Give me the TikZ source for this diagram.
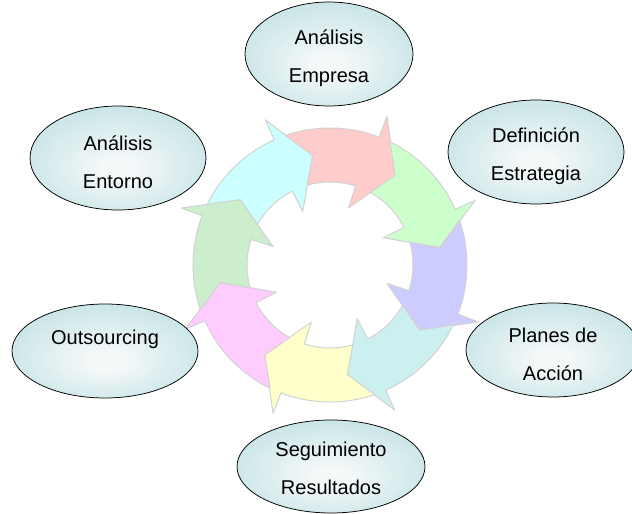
\documentclass[tikz,border=0pt]{standalone}
\usepackage{fontspec}
\setmainfont{Liberation Sans}
\usetikzlibrary{shapes.geometric}
\definecolor{ringline}{HTML}{D2D2D2}
\definecolor{ellin}{HTML}{F6F9F9}
\definecolor{ellout}{HTML}{B6DCE0}
\definecolor{arA}{HTML}{CCFFFF}
\definecolor{arB}{HTML}{FFCCCC}
\definecolor{arC}{HTML}{CCFFCC}
\definecolor{arD}{HTML}{CCCCFF}
\definecolor{arE}{HTML}{CCF0F0}
\definecolor{arF}{HTML}{FFFFCC}
\definecolor{arG}{HTML}{FFCCFF}
\definecolor{arH}{HTML}{CCEECC}
% soft glow, a little below the middle of each ellipse
\pgfdeclareradialshading{ellglow}{\pgfpoint{0bp}{-6bp}}{%
  color(0bp)=(ellin); color(4bp)=(ellin); color(38bp)=(ellout); color(50bp)=(ellout)}
\newcommand\topgap{\rule{0pt}{24pt}}
\begin{document}
\begin{tikzpicture}[x=1pt,y=1pt,
  phase/.style={ellipse, draw=black, line width=0.75pt,
    shading=ellglow, inner sep=0pt,
    align=center, font=\fontsize{20}{38}\selectfont},
  ringarrow/.style={draw=ringline, line width=1pt, line join=round}]
\useasboundingbox (0,0) rectangle (632,514);

% ring of eight curved arrows running clockwise; each tail is notched
% to fit around the head of the arrow before it
\begin{scope}[shift={(330,249)}]
\foreach \t/\c in {99/arA, 54/arB, 9/arC, -36/arD, -81/arE, -126/arF, -171/arG, 144/arH}{
  \pgfmathsetmacro\tT{\t+45}
  \pgfmathsetmacro\ta{\t+55.05}
  \pgfmathsetmacro\tb{\t+15}
  \pgfmathsetmacro\tc{\t+18}
  \pgfmathsetmacro\td{\t+51.93}
  \draw[ringarrow, fill=\c] (\ta:137)
    arc[start angle=\ta, end angle=\tb, radius=137]
    -- (\tb:159) -- (\t:111) -- (\tc:60) -- (\tc:83)
    arc[start angle=\tc, end angle=\td, radius=83]
    -- (\tT:111) -- cycle;
}
\end{scope}

% phases around the cycle
\node[phase, minimum width=168, minimum height=104] (empresa) at (329,460) {\topgap Análisis\\Empresa};
\node[phase, minimum width=176, minimum height=104] (estrategia) at (536,362) {\topgap Definición\\Estrategia};
\node[phase, minimum width=176, minimum height=104] (entorno) at (118,356) {\topgap Análisis\\Entorno};
\node[phase, minimum width=186, minimum height=94] (outsourcing) at (105,163) {\smash{\raisebox{6pt}{Outsourcing}}};
\node[phase, minimum width=174, minimum height=94] (planes) at (553,164) {\topgap Planes de\\Acción};
\node[phase, minimum width=188, minimum height=93] (seguimiento) at (331,47.5) {\rule{0pt}{18pt}Seguimiento\\Resultados};
\end{tikzpicture}
\end{document}
